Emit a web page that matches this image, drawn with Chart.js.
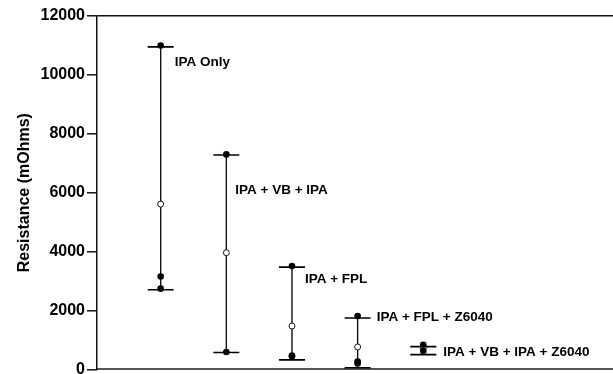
<!DOCTYPE html>
<html>
<head>
<meta charset="utf-8">
<script src="https://cdn.jsdelivr.net/npm/chart.js@4/dist/chart.umd.min.js"></script>
<style>
  html, body { margin: 0; padding: 0; background: #fff; }
  #wrap { width: 613px; height: 374px; }
</style>
</head>
<body>
<div id="wrap"><canvas id="c" width="613" height="374"></canvas></div>
<script>
// ---- Data ----
const categories = ['IPA Only', 'IPA + VB + IPA', 'IPA + FPL', 'IPA + FPL + Z6040', 'IPA + VB + IPA + Z6040'];
const positions = [1, 2, 3, 4, 5];
const capHigh = [10950, 7280, 3470, 1740, 770];
const capLow = [2700, 570, 320, 55, 500];
const maxValues = [11000, 7300, 3510, 1810, 830];
const lowValues = [[3150, 2740], [590], [470, 440], [265, 200], [620]];
const meanValues = [5610, 3960, 1470, 760, 720];
const labelValues = [10430, 6070, 3060, 1760, 580];
const yTicks = [0, 2000, 4000, 6000, 8000, 10000, 12000];
const yTitle = 'Resistance (mOhms)';

// ---- Build datasets ----
const rangeData = [];
const capData = [];
const maxData = [];
const lowData = [];
const meanData = [];
positions.forEach((x, i) => {
  rangeData.push({x, y: capHigh[i]}, {x, y: capLow[i]}, {x, y: null});
  capData.push({x, y: capHigh[i]}, {x, y: capLow[i]});
  maxData.push({x, y: maxValues[i]});
  lowValues[i].forEach(v => lowData.push({x, y: v}));
  meanData.push({x, y: meanValues[i]});
});

const labelDx = [14, 9, 13, 19, 20];
const labelPlugin = {
  id: 'groupLabels',
  afterDatasetsDraw(chart) {
    const {ctx, scales: {x, y}} = chart;
    ctx.save();
    ctx.font = 'bold 13.5px "Liberation Sans", Arial, sans-serif';
    ctx.fillStyle = '#000';
    ctx.textAlign = 'left';
    ctx.textBaseline = 'middle';
    categories.forEach((c, i) => {
      ctx.fillText(c, x.getPixelForValue(positions[i]) + labelDx[i], y.getPixelForValue(labelValues[i]));
    });
    ctx.restore();
  }
};

new Chart(document.getElementById('c'), {
  type: 'scatter',
  data: {
    datasets: [
      { label: 'max', data: maxData, order: 0, pointRadius: 3.3, pointHoverRadius: 3.3,
        backgroundColor: '#000', borderColor: '#000', borderWidth: 0, showLine: false },
      { label: 'low', data: lowData, order: 0, pointRadius: 3.3, pointHoverRadius: 3.3,
        backgroundColor: '#000', borderColor: '#000', borderWidth: 0, showLine: false },
      { label: 'mean', data: meanData, order: 1, pointRadius: 3, pointHoverRadius: 3,
        backgroundColor: '#fff', borderColor: '#000', borderWidth: 0.9, showLine: false },
      { label: 'caps', data: capData, order: 2, pointStyle: 'line', pointRadius: 13, pointHoverRadius: 13,
        borderColor: '#000', borderWidth: 1.6, showLine: false },
      { label: 'range', data: rangeData, order: 3, showLine: true, spanGaps: false, pointRadius: 0,
        pointHoverRadius: 0, borderColor: '#111', borderWidth: 1.4 }
    ]
  },
  options: {
    responsive: false,
    animation: false,
    devicePixelRatio: 1,
    events: [],
    layout: { autoPadding: false, padding: { top: 16, bottom: 4.7, left: 0, right: 0 } },
    plugins: { legend: { display: false }, tooltip: { enabled: false } },
    scales: {
      x: {
        type: 'linear',
        min: 0.03,
        max: 7.89,
        ticks: { display: false },
        grid: { display: true, drawTicks: false, color: 'rgba(0,0,0,0)' },
        border: { display: true, color: '#555', width: 2 },
        afterFit(scale) { scale.height = 0; scale.paddingLeft = 0; scale.paddingRight = 0; }
      },
      y: {
        type: 'linear',
        min: 0,
        max: 12000,
        afterBuildTicks(scale) { scale.ticks = yTicks.map(v => ({value: v})); },
        ticks: {
          color: '#000',
          padding: 2,
          callback: v => String(v),
          font: { family: '"Liberation Sans", Arial, sans-serif', size: 16, weight: 'bold' }
        },
        grid: {
          drawOnChartArea: true,
          drawTicks: true,
          tickLength: 10,
          lineWidth: 1.6,
          tickWidth: 1.4,
          tickColor: '#000',
          color: ctx => (ctx.tick && ctx.tick.value === 12000) ? '#111' : 'rgba(0,0,0,0)'
        },
        border: { display: true, color: '#111', width: 1.5 },
        title: {
          display: true,
          text: yTitle,
          color: '#000',
          padding: { top: 15, bottom: 0 },
          font: { family: '"Liberation Sans", Arial, sans-serif', size: 16, weight: 'bold' }
        },
        afterFit(scale) { scale.width = 97; scale.paddingBottom = 0; }
      }
    }
  },
  plugins: [labelPlugin]
});
</script>
</body>
</html>
